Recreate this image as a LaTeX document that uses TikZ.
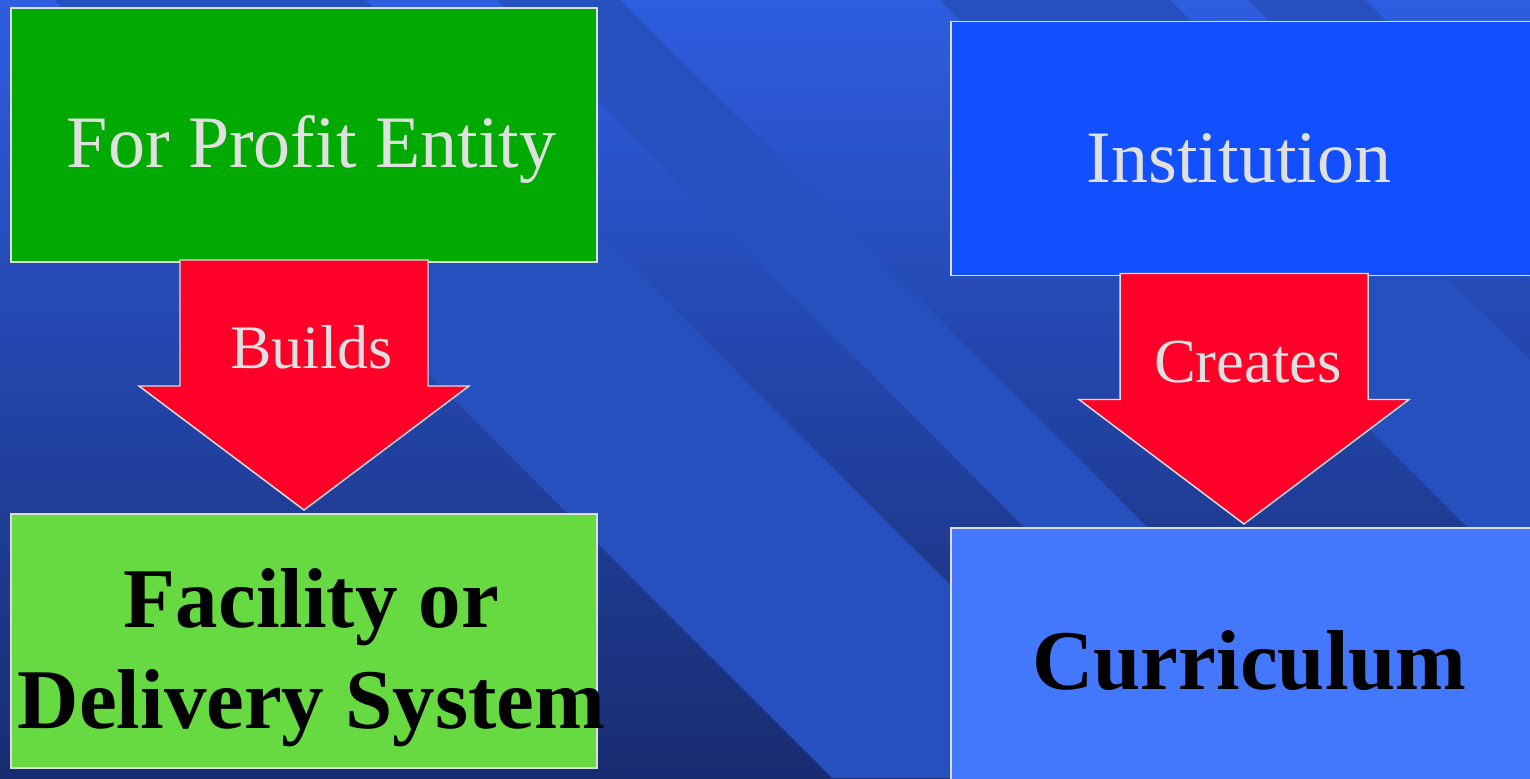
\documentclass[tikz,border=0pt]{standalone}
\usepackage{fontspec}
\setmainfont{Liberation Serif}
\usetikzlibrary{calc}

\definecolor{bgtop}{RGB}{46,93,224}
\definecolor{bgbot}{RGB}{24,44,112}
\definecolor{stripeblue}{RGB}{37,80,190}
\definecolor{edgegray}{RGB}{221,221,221}
\definecolor{profitgreen}{RGB}{0,170,0}
\definecolor{facilitygreen}{RGB}{102,218,64}
\definecolor{institutionblue}{RGB}{18,80,255}
\definecolor{curriculumblue}{RGB}{68,120,252}
\definecolor{arrowred}{RGB}{255,0,40}
\definecolor{lighttext}{RGB}{224,224,224}

\tikzset{
  box/.style={draw=edgegray, line width=1.4pt, inner sep=0pt, outer sep=0pt,
    minimum width=439.5pt, minimum height=190.5pt},
  blockarrow/.style={draw=edgegray, fill=arrowred, line width=1.1pt, line join=miter},
  lightlabel/.style={text=lighttext, anchor=base, inner sep=0pt},
  boldlabel/.style={text=black, anchor=base, inner sep=0pt, align=center,
    font=\fontsize{63.75}{75.75}\selectfont\bfseries},
}

\begin{document}
\begin{tikzpicture}[x=0.75pt,y=0.75pt,yscale=-1,xscale=1]
\clip (0,0) rectangle (1530,778);

%Background
\shade [top color=bgtop, bottom color=bgbot] (0,0) rectangle (1530,778);
\foreach \a/\b in {54/365, 497/620, 940/1170, 1248/1365}
  \fill [stripeblue] (\a,0) -- (\b,0) -- (\b+778,778) -- (\a+778,778) -- cycle;

%Boxes
\node (profit) [box, fill=profitgreen] at (304,135) {};
\node (facility) [box, fill=facilitygreen] at (304,641) {};
\node (institution) [box, fill=institutionblue] at (1244,148.5) {};
\node (curriculum) [box, fill=curriculumblue] at (1244,655) {};

%Block arrows
\draw [blockarrow] ($(profit.south)+(-124,-2)$) -- ++(0,126) -- ++(-41,0)
  -- ($(facility.north)+(0,-4)$) -- ($(profit.south)+(165,124)$) -- ++(-41,0) -- ++(0,-126) -- cycle;
\draw [blockarrow] ($(institution.south)+(-124,-2)$) -- ++(0,126) -- ++(-41,0)
  -- ($(curriculum.north)+(0,-4)$) -- ($(institution.south)+(165,124)$) -- ++(-41,0) -- ++(0,-126) -- cycle;

% Text Node
\node (profittxt) [lightlabel, font=\fontsize{55.5}{66}\selectfont] at (311.5,167) {For Profit Entity};
% Text Node
\node (institutiontxt) [lightlabel, font=\fontsize{55.5}{66}\selectfont] at (1239,182) {Institution};
% Text Node
\node (buildstxt) [lightlabel, font=\fontsize{46.5}{55}\selectfont] at (311.5,368) {Builds};
% Text Node
\node (createstxt) [lightlabel, font=\fontsize{47}{56}\selectfont] at (1248,382) {Creates};
% Text Node
\node (facilitytxt) [boldlabel] at (311.5,728) {Facility or\\Delivery System};
% Text Node
\node (curriculumtxt) [boldlabel] at (1249.5,689) {Curriculum};

\end{tikzpicture}
\end{document}
